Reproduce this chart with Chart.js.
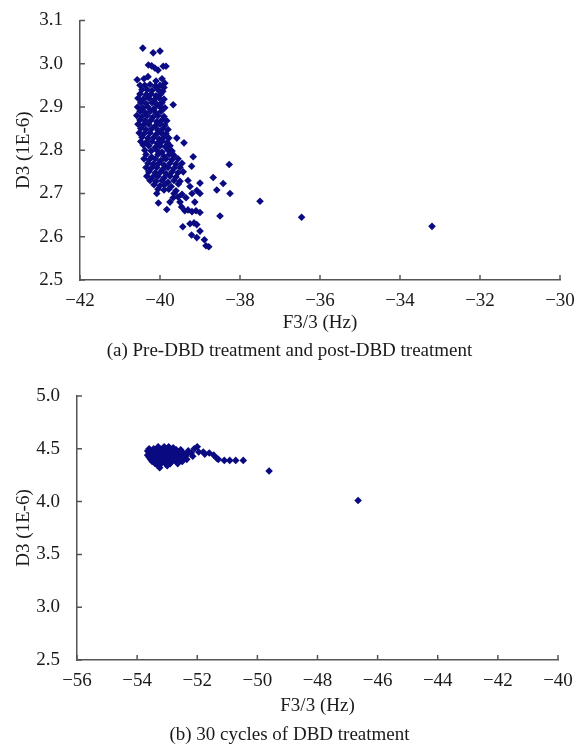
<!DOCTYPE html>
<html>
<head>
<meta charset="utf-8">
<script src="https://cdn.jsdelivr.net/npm/chart.js@4"></script>
<style>
body { margin: 0; background: #fff; width: 579px; height: 746px; position: relative; overflow: hidden; }
canvas { position: absolute; left: 0; }
.cap { position: absolute; left: 0; width: 579px; text-align: center; font-family: "Liberation Serif", serif; font-size: 19px; color: #1a1a1a; }
</style>
</head>
<body>
<canvas id="chartA" width="579" height="340" style="top:0"></canvas>
<div class="cap" style="top:339px">(a) Pre-DBD treatment and post-DBD treatment</div>
<canvas id="chartB" width="579" height="350" style="top:370px"></canvas>
<div class="cap" style="top:723px">(b) 30 cycles of DBD treatment</div>
<script>
// (a) pre/post DBD treatment : [F3/3 Hz, D3 1E-6]
var preDbd = [
	[-40.43,3.036],[-40.17,3.025],[-40.00,3.029],
	[-40.29,2.997],[-40.21,2.995],[-40.13,2.990],[-39.92,2.994],[-39.85,2.994],[-40.05,2.985],
	[-40.57,2.963],[-40.40,2.965],[-40.30,2.970],[-40.10,2.960],[-39.95,2.965],[-39.88,2.955],
	[-40.50,2.950],[-40.38,2.950],[-40.25,2.952],[-40.12,2.948],[-40.00,2.950],[-39.90,2.945],
	[-40.45,2.940],[-40.32,2.940],[-40.20,2.938],[-40.05,2.940],[-39.93,2.936],
	[-40.50,2.930],[-40.35,2.928],[-40.22,2.930],[-40.10,2.926],[-39.98,2.930],
	[-40.55,2.920],[-40.42,2.918],[-40.28,2.920],[-40.15,2.916],[-40.02,2.920],[-39.90,2.918],
	[-40.48,2.910],[-40.35,2.908],[-40.20,2.910],[-40.08,2.906],[-39.95,2.910],
	[-40.56,2.900],[-40.43,2.898],[-40.30,2.900],[-40.15,2.896],[-40.00,2.900],[-39.88,2.898],[-39.67,2.905],
	[-40.50,2.890],[-40.38,2.888],[-40.24,2.890],[-40.10,2.886],[-39.97,2.890],
	[-40.58,2.880],[-40.45,2.878],[-40.32,2.880],[-40.18,2.876],[-40.05,2.880],[-39.90,2.878],
	[-40.50,2.870],[-40.37,2.868],[-40.22,2.870],[-40.08,2.866],[-39.95,2.870],[-39.83,2.868],
	[-40.55,2.860],[-40.42,2.858],[-40.28,2.860],[-40.12,2.856],[-40.00,2.860],[-39.88,2.858],
	[-40.48,2.850],[-40.35,2.848],[-40.20,2.850],[-40.05,2.846],[-39.92,2.850],[-39.80,2.848],
	[-40.52,2.840],[-40.40,2.838],[-40.25,2.840],[-40.10,2.836],[-39.97,2.840],[-39.85,2.838],
	[-40.45,2.830],[-40.30,2.828],[-40.15,2.830],[-40.02,2.826],[-39.90,2.830],[-39.78,2.828],[-39.58,2.828],
	[-40.48,2.820],[-40.35,2.818],[-40.20,2.820],[-40.07,2.816],[-39.95,2.820],[-39.82,2.818],[-39.40,2.817],
	[-40.42,2.812],[-40.28,2.810],[-40.12,2.806],[-40.00,2.810],[-39.87,2.808],[-39.75,2.810],
	[-40.38,2.800],[-40.22,2.798],[-40.08,2.800],[-39.95,2.796],[-39.80,2.800],[-39.70,2.798],
	[-40.35,2.790],[-40.21,2.784],[-40.05,2.790],[-39.90,2.786],[-39.77,2.790],[-39.65,2.788],
	[-40.40,2.780],[-40.27,2.778],[-40.12,2.780],[-39.98,2.776],[-39.85,2.780],[-39.70,2.778],[-39.55,2.780],[-39.17,2.785],
	[-40.30,2.770],[-40.17,2.768],[-40.03,2.770],[-39.90,2.766],[-39.75,2.770],[-39.60,2.768],[-39.45,2.770],[-38.27,2.767],
	[-40.35,2.760],[-40.22,2.758],[-40.08,2.760],[-39.93,2.756],[-39.80,2.760],[-39.65,2.758],[-39.50,2.760],[-39.21,2.763],
	[-40.28,2.750],[-40.12,2.748],[-39.98,2.750],[-39.85,2.746],[-39.70,2.750],[-39.55,2.748],[-39.42,2.750],
	[-40.33,2.740],[-40.18,2.738],[-40.05,2.740],[-39.90,2.736],[-39.75,2.740],[-39.60,2.738],[-38.67,2.737],
	[-40.25,2.730],[-40.10,2.728],[-39.95,2.730],[-39.80,2.726],[-39.65,2.730],[-39.50,2.728],[-39.30,2.730],
	[-40.15,2.720],[-40.00,2.718],[-39.88,2.720],[-39.72,2.716],[-39.54,2.722],[-39.25,2.716],[-39.00,2.724],[-38.42,2.723],
	[-40.05,2.710],[-39.90,2.708],[-39.78,2.710],[-39.60,2.706],[-39.08,2.707],[-38.58,2.708],
	[-40.08,2.700],[-39.65,2.700],[-39.45,2.698],[-39.20,2.700],[-39.00,2.700],[-38.25,2.700],
	[-39.67,2.690],[-39.55,2.692],[-39.35,2.690],
	[-40.04,2.678],[-39.75,2.680],[-39.50,2.680],[-39.13,2.680],[-37.50,2.682],
	[-39.46,2.669],
	[-39.83,2.663],[-39.38,2.660],[-39.30,2.662],[-39.20,2.658],[-39.10,2.660],[-39.00,2.656],
	[-38.50,2.648],[-36.46,2.645],
	[-39.25,2.630],[-39.15,2.632],[-39.08,2.628],
	[-39.43,2.623],[-33.20,2.624],
	[-39.00,2.613],
	[-39.21,2.604],[-39.08,2.598],[-38.89,2.593],
	[-38.85,2.579],[-38.78,2.577]
];

// (b) 30 cycles of DBD treatment
var dbd30 = [
	[-53.30,4.52],[-53.10,4.52],[-52.95,4.52],[-52.80,4.51],
	[-53.60,4.50],[-53.45,4.50],[-53.25,4.50],[-53.05,4.50],[-52.90,4.50],[-52.70,4.49],[-52.55,4.49],
	[-53.65,4.48],[-53.50,4.48],[-53.35,4.48],[-53.20,4.48],[-53.00,4.48],[-52.85,4.48],[-52.65,4.47],[-52.50,4.47],
	[-53.60,4.46],[-53.45,4.46],[-53.30,4.46],[-53.15,4.46],[-52.95,4.46],[-52.80,4.46],[-52.60,4.46],[-52.45,4.45],[-52.30,4.46],
	[-53.65,4.44],[-53.50,4.44],[-53.35,4.44],[-53.20,4.44],[-53.05,4.44],[-52.90,4.44],[-52.75,4.44],[-52.55,4.44],[-52.40,4.43],
	[-53.60,4.42],[-53.45,4.42],[-53.30,4.42],[-53.10,4.42],[-52.95,4.42],[-52.80,4.42],[-52.65,4.42],[-52.50,4.41],
	[-53.55,4.40],[-53.40,4.40],[-53.25,4.40],[-53.10,4.40],[-52.90,4.40],[-52.75,4.40],[-52.60,4.40],[-52.35,4.40],
	[-53.50,4.38],[-53.35,4.38],[-53.15,4.38],[-53.00,4.38],[-52.85,4.38],[-52.70,4.38],[-52.50,4.38],
	[-53.40,4.36],[-53.20,4.36],[-53.05,4.36],[-52.90,4.36],[-52.65,4.36],
	[-53.30,4.34],[-53.00,4.34],
	[-53.25,4.32],
	[-52.30,4.48],[-52.20,4.46],[-52.10,4.50],[-52.00,4.52],[-51.95,4.47],[-52.15,4.43],
	[-51.80,4.47],[-51.75,4.45],[-51.60,4.46],[-51.45,4.44],[-51.35,4.41],[-51.30,4.40],
	[-51.10,4.39],[-50.92,4.39],[-50.72,4.39],[-50.47,4.39],
	[-49.61,4.29],
	[-46.65,4.01]
];

var aXTicks = [-42, -40, -38, -36, -34, -32, -30];
var aYTicks = [2.5, 2.6, 2.7, 2.8, 2.9, 3.0, 3.1];
var bXTicks = [-56, -54, -52, -50, -48, -46, -44, -42, -40];
var bYTicks = [2.5, 3.0, 3.5, 4.0, 4.5, 5.0];

var serif = "'Liberation Serif', 'Times New Roman', serif";
var axisColor = '#555';
var textColor = '#1a1a1a';

// tick marks pointing into the plot, like the original figure
var innerTicks = {
	id: 'innerTicks',
	afterDraw: function(chart) {
		var ctx = chart.ctx;
		var a = chart.chartArea;
		var sx = chart.scales.x, sy = chart.scales.y;
		ctx.save();
		ctx.strokeStyle = axisColor;
		ctx.lineWidth = 1.5;
		ctx.beginPath();
		sx.ticks.forEach(function(t){
			var px = sx.getPixelForValue(t.value);
			ctx.moveTo(px, a.bottom);
			ctx.lineTo(px, a.bottom - 5);
		});
		sy.ticks.forEach(function(t){
			var py = sy.getPixelForValue(t.value);
			ctx.moveTo(a.left, py);
			ctx.lineTo(a.left + 5, py);
		});
		ctx.stroke();
		ctx.restore();
	}
};

function makeChart(id, pts, xT, yT, yWidth, pad, titlePad) {
	return new Chart(document.getElementById(id), {
		type: 'scatter',
		data: {
			datasets: [{
				data: pts.map(function(p){ return {x: p[0], y: p[1]}; }),
				pointStyle: 'rectRot',
				pointRadius: 3.8,
				pointHoverRadius: 3.8,
				backgroundColor: '#0a0a82',
				borderWidth: 0
			}]
		},
		options: {
			responsive: false,
			animation: false,
			events: [],
			layout: { padding: pad },
			plugins: { legend: { display: false }, tooltip: { enabled: false } },
			scales: {
				x: {
					type: 'linear',
					min: xT[0], max: xT[xT.length - 1],
					afterBuildTicks: function(s){ s.ticks = xT.map(function(v){ return {value: v}; }); },
					afterFit: function(s){ s.height = 60; },
					grid: { display: false },
					border: { color: axisColor, width: 1.5 },
					ticks: {
						padding: 2,
						color: textColor,
						font: { family: serif, size: 19 },
						callback: function(v){ return String(v).replace('-', '\u2212'); }
					},
					title: {
						display: true,
						text: 'F3/3 (Hz)',
						color: textColor,
						font: { family: serif, size: 19 },
						padding: { top: 0, bottom: titlePad }
					}
				},
				y: {
					type: 'linear',
					min: yT[0], max: yT[yT.length - 1],
					afterBuildTicks: function(s){ s.ticks = yT.map(function(v){ return {value: v}; }); },
					afterFit: function(s){ s.width = yWidth; },
					grid: { display: false },
					border: { color: axisColor, width: 1.5 },
					ticks: {
						padding: 9,
						color: textColor,
						font: { family: serif, size: 19 },
						callback: function(v){ return Number(v).toFixed(1); }
					},
					title: {
						display: true,
						text: 'D3 (1E-6)',
						color: textColor,
						font: { family: serif, size: 19 },
						padding: { top: 13, bottom: 0 }
					}
				}
			}
		},
		plugins: [innerTicks]
	});
}

makeChart('chartA', preDbd, aXTicks, aYTicks, 80, { left: 0, right: 19, top: 16, bottom: 0 }, 6);
makeChart('chartB', dbd30, bXTicks, bYTicks, 77, { left: 0, right: 21, top: 26, bottom: 0 }, 3);
</script>
</body>
</html>
